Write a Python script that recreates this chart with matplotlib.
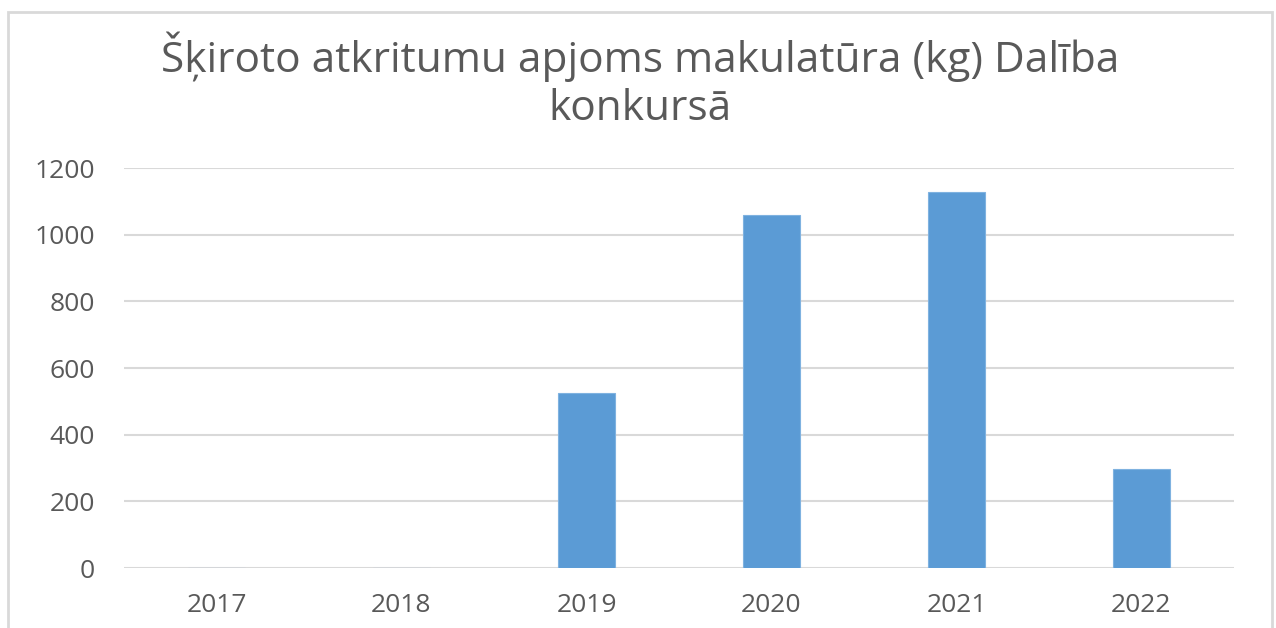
import matplotlib.pyplot as plt
from matplotlib.patches import Rectangle

# chart data
years = ['2017', '2018', '2019', '2020', '2021', '2022']
values = [0, 0, 526, 1058, 1128, 297]

W, H = 1276, 628
fig = plt.figure(figsize=(W / 100, H / 100), dpi=100)
fig.patch.set_facecolor('white')

# outer chart frame (bottom edge is cut off in the reference)
fig.patches.append(Rectangle((8 / W, -0.05), (1272 - 8) / W, 1.05 - 12 / H,
                             transform=fig.transFigure, fill=False,
                             edgecolor='#D9D9D9', linewidth=2))

ax = fig.add_axes([124 / W, 1 - 568 / H, (1234 - 124) / W, (568 - 168) / H])
x = range(len(years))
ax.bar(x, values, width=0.31, color='#5B9BD5', edgecolor='#7FB2E0',
       linewidth=0.8, zorder=3)

ax.set_xlim(-0.5, len(years) - 0.5)
ax.set_ylim(0, 1200)
ax.set_yticks(range(0, 1201, 200))
ax.set_xticks(list(x))
ax.set_xticklabels(years)
ax.grid(axis='y', color='#D9D9D9', linewidth=1.5, zorder=0)
for s in ax.spines.values():
    s.set_visible(False)
ax.tick_params(length=0, labelsize=19, colors='#595959')
ax.tick_params(axis='y', pad=21)
ax.tick_params(axis='x', pad=18)
for lab in ax.get_xticklabels() + ax.get_yticklabels():
    lab.set_fontfamily('Open Sans')

fig.text(640 / W, 1 - 72 / H, 'Šķiroto atkritumu apjoms makulatūra (kg) Dalība',
         ha='center', va='baseline', fontsize=30.5, color='#595959',
         family='Open Sans')
fig.text(640 / W, 1 - 120 / H, 'konkursā', ha='center', va='baseline',
         fontsize=30.5, color='#595959', family='Open Sans')

fig.savefig('out.png', dpi=100, facecolor='white')
